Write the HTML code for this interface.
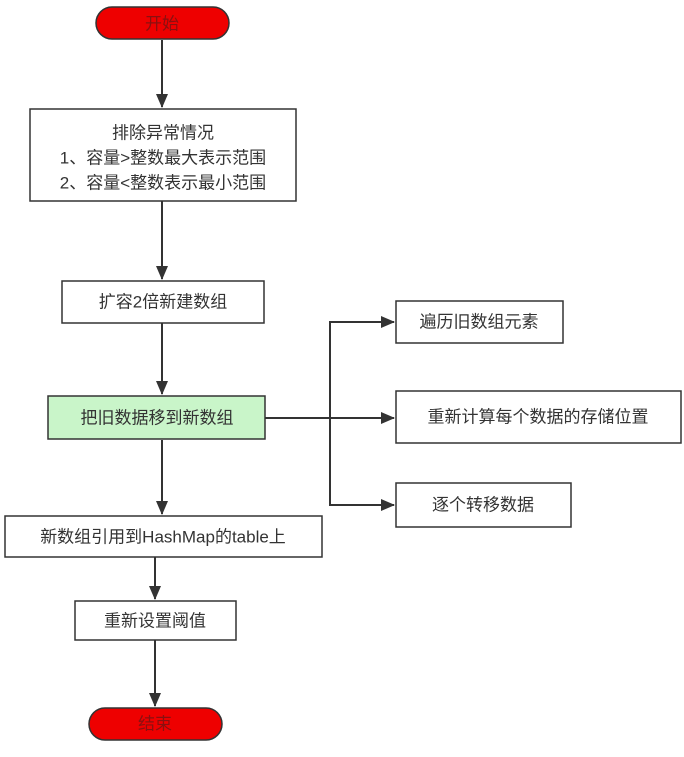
<!DOCTYPE html>
<html><head><meta charset="utf-8"><style>
body{margin:0;background:#fff;width:684px;height:752px;overflow:hidden}
svg text{font-family:"Liberation Sans","Noto Sans CJK SC",sans-serif;font-size:17px;fill:#333;text-anchor:middle;dominant-baseline:central}
</style></head><body>
<svg width="684" height="752" viewBox="0 0 684 752">
<defs><marker id="a" markerWidth="14" markerHeight="12" refX="13" refY="6" orient="auto" markerUnits="userSpaceOnUse"><path d="M0,0 L14,6 L0,12 Z" fill="#333"/></marker></defs>
<g stroke="#333" stroke-width="2" fill="none">
<line x1="162" y1="40" x2="162" y2="107" marker-end="url(#a)"/>
<line x1="162" y1="201" x2="162" y2="279" marker-end="url(#a)"/>
<line x1="162" y1="323" x2="162" y2="394" marker-end="url(#a)"/>
<line x1="162" y1="440" x2="162" y2="514" marker-end="url(#a)"/>
<line x1="155" y1="557" x2="155" y2="599" marker-end="url(#a)"/>
<line x1="155" y1="640" x2="155" y2="706" marker-end="url(#a)"/>
<line x1="265" y1="418" x2="394" y2="418" marker-end="url(#a)"/>
<polyline points="330,418 330,322 394,322" marker-end="url(#a)"/>
<polyline points="330,418 330,505 394,505" marker-end="url(#a)"/>
</g>
<g stroke="#333" stroke-width="1.5">
<rect x="96" y="7" width="133" height="32" rx="16" fill="#ee0000"/>
<rect x="30" y="109" width="266" height="92" fill="#fff"/>
<rect x="62" y="281" width="202" height="42" fill="#fff"/>
<rect x="48" y="396" width="217" height="43" fill="#c9f5c9"/>
<rect x="396" y="301" width="167" height="42" fill="#fff"/>
<rect x="396" y="391" width="285" height="52" fill="#fff"/>
<rect x="396" y="483" width="175" height="44" fill="#fff"/>
<rect x="5" y="516" width="317" height="41" fill="#fff"/>
<rect x="75" y="601" width="161" height="39" fill="#fff"/>
<rect x="89" y="708" width="133" height="32" rx="16" fill="#ee0000"/>
</g>
<text x="162" y="24" style="fill:#8a1010">开始</text>
<text x="163" y="133">排除异常情况</text>
<text x="163" y="158">1、容量&gt;整数最大表示范围</text>
<text x="163" y="183">2、容量&lt;整数表示最小范围</text>
<text x="163" y="302">扩容2倍新建数组</text>
<text x="157" y="418">把旧数据移到新数组</text>
<text x="479" y="322">遍历旧数组元素</text>
<text x="538" y="417">重新计算每个数据的存储位置</text>
<text x="483" y="505">逐个转移数据</text>
<text x="163" y="537">新数组引用到HashMap的table上</text>
<text x="155" y="621">重新设置阈值</text>
<text x="155" y="724" style="fill:#8a1010">结束</text>
</svg>
</body></html>
